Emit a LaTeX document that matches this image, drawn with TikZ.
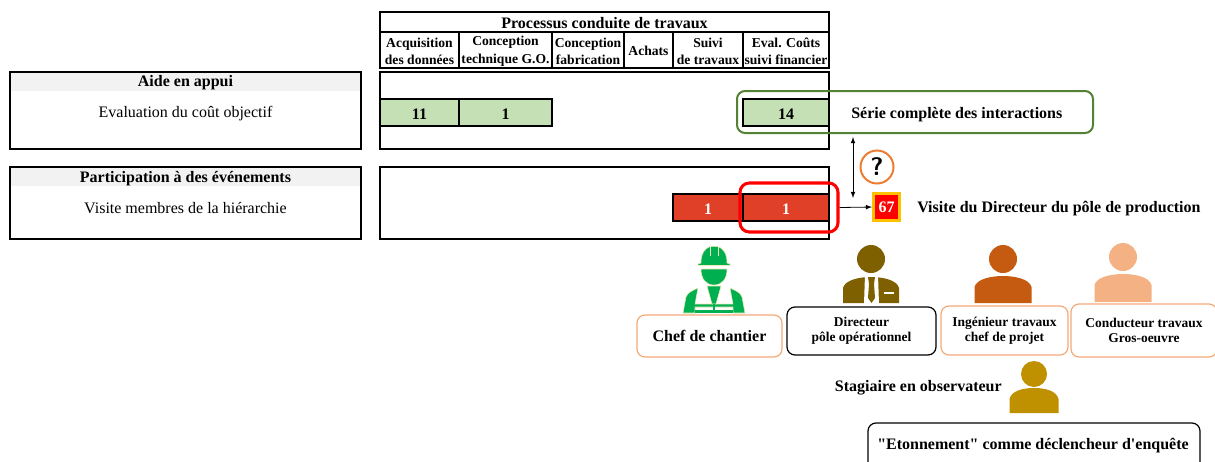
\documentclass[tikz,border=0pt]{standalone}
\usepackage{fontspec}
\setmainfont{Liberation Serif}[Ligatures=TeXOff]
\definecolor{cellgreen}{HTML}{C5E0B4}
\definecolor{cellred}{HTML}{DF4027}
\definecolor{focusgreen}{HTML}{548235}
\definecolor{markorange}{HTML}{ED7D31}
\definecolor{softorange}{HTML}{F4A978}
\definecolor{gold}{HTML}{FFC000}
\definecolor{bandgray}{HTML}{F2F2F2}
\definecolor{workergreen}{HTML}{00B050}
\definecolor{workeredge}{HTML}{EFE9B8}
\definecolor{directorbrown}{HTML}{7F6000}
\definecolor{engineerbrown}{HTML}{C55A11}
\definecolor{conductorpeach}{HTML}{F4B183}
\definecolor{internochre}{HTML}{BF9000}
\def\px{0.75pt}
\tikzset{
  frame/.style={draw=black, line width=1.5pt},
  small/.style={font=\fontsize{10.2}{13.3}\selectfont\bfseries, align=center, inner sep=0pt, yshift=-1pt},
  label/.style={font=\fontsize{12}{14}\selectfont\bfseries, align=center, inner sep=0pt, yshift=-1pt},
  plain/.style={font=\fontsize{12}{14}\selectfont, inner sep=0pt, yshift=-0.7pt},
  rolebox/.style={draw=#1, line width=0.9pt, rounded corners=6pt, fill=white, font=\fontsize{10.1}{11.3}\selectfont\bfseries, align=center, inner sep=0pt},
  vest/.style={fill=workergreen, draw=workeredge, line width=0.4pt}
}
\begin{document}
\begin{tikzpicture}[x=0.75pt, y=-0.75pt]
    \path[use as bounding box, clip] (0,0) rectangle (1215,461);
    % header table
    \draw[frame] (380,12) rectangle (829,32) node[pos=.5, label] (process) {Processus conduite de travaux};
    \foreach \xa/\xb/\name/\txt in {380/459/acq/{Acquisition\\des données},459/552/tech/{Conception\\technique G.O.},552/624/fab/{Conception\\fabrication},624/673/ach/Achats,673/743/suivi/{Suivi\\de travaux},743/829/eval/{Eval. Coûts\\suivi financier}}
    \draw[frame] (\xa,32) rectangle (\xb,68) node[pos=.5, small] (\name) {\txt};
    % left boxes
    \fill[bandgray] (10,72) rectangle (361,91);
    \fill[bandgray] (10,167) rectangle (361,186);
    \draw[frame] (10,72) rectangle (361,149);
    \draw[frame] (10,167) rectangle (361,239);
    \node[label] (aide) at (185.5,81) {Aide en appui};
    \node[plain] (evalcout) at (185.5,113) {Evaluation du coût objectif};
    \node[label] (part) at (185.5,177) {Participation à des événements};
    \node[plain] (visite) at (185.5,207.5) {Visite membres de la hiérarchie};
    % rows
    \draw[frame] (380,72) rectangle (829,149);
    \draw[frame] (380,167) rectangle (829,239);
    \foreach \xa/\xb/\name/\txt in {380/459/ga/11,459/552/gb/1,743/829/gc/14}
    \filldraw[frame, fill=cellgreen] (\xa,99) rectangle (\xb,126) node[pos=.5, label] (\name) {\txt};
    \foreach \xa/\xb/\name in {673/743/ra,743/829/rb}
    \filldraw[frame, fill=cellred] (\xa,194) rectangle (\xb,221) node[pos=.5, label, text=white] (\name) {1};
    % focus frames
    \node[draw=focusgreen, line width=1.5pt, rounded corners=6pt, minimum width=356*\px, minimum height=42*\px, inner sep=0pt] (focusgreen) at (915,112) {};
    \node[draw=red, line width=2.3pt, rounded corners=7pt, minimum width=98*\px, minimum height=49*\px, inner sep=0pt] (focusred) at (789,207.5) {};
    \node[label, anchor=west] (serie) at (851,113) {Série complète des interactions};
    \node[draw=gold, fill=red, line width=2.2pt, minimum width=26*\px, minimum height=27*\px, inner sep=0pt, label, text=white] (count) at (886.5,205.7) {67};
    \node[label, anchor=west] (visitedir) at (917,207) {Visite du Directeur du pôle de production};
    \node[circle, draw=markorange, line width=1.5pt, fill=white, minimum size=33*\px, inner sep=0pt, font=\fontsize{19}{19}\selectfont\bfseries\sffamily] (question) at (877,167) {?};
    % connectors
    \coordinate (uptop) at (853,137);
    \coordinate (upbot) at (853,198);
    \draw[latex-latex, line width=0.6pt] (uptop) -- (upbot);
    \draw[-latex, line width=0.6pt] (focusred.east) -- (count.west);
    % people
    \foreach \cx/\hy/\ty/\by/\w/\r/\col in {1003/259/276/303/28.5/14/engineerbrown,1123/257/274/302/28.5/14/conductorpeach,1034/374/388/413/24.5/13/internochre,871/259/277/303/28/14/directorbrown}{
        \fill[\col] (\cx,\hy) circle[radius=\r];
        \fill[\col] ({\cx-\w},\by) -- ({\cx-\w},{\ty+11}) .. controls ({\cx-\w+2},{\ty+3}) and ({\cx-12},\ty) .. (\cx,\ty) .. controls ({\cx+12},\ty) and ({\cx+\w-2},{\ty+3}) .. ({\cx+\w},{\ty+11}) -- ({\cx+\w},\by) -- cycle;
    }
    % director suit
    \fill[white] (865,275) -- (878,275) -- (879,304) -- (864,304) -- cycle;
    \fill[directorbrown] (868,277) -- (875,277) -- (874,284) -- (875,298) -- (871.5,303) -- (868,298) -- (869,284) -- cycle;
    \fill[white] (884,292) rectangle (894,294);
    % site manager
    \filldraw[vest] (698,265.5) -- (698,264) -- (701,263) .. controls (701,253) and (705,249) .. (709,247) .. controls (712,246) and (716,246) .. (719,247) .. controls (723,249) and (727,253) .. (727,263) -- (730,264) -- (730,265.5) -- cycle;
    \draw[workeredge, line width=0.7pt] (710,247) -- (710,256) (718,247) -- (718,256);
    \filldraw[vest] (701,269) -- (727,269) .. controls (727,279) and (722,285) .. (714,285) .. controls (706,285) and (701,279) .. (701,269) -- cycle;
    \filldraw[vest] (683,313) -- (686,297) .. controls (688,292) and (692,291) .. (698,288) -- (695,304) -- (733,304) -- (730,288) .. controls (736,291) and (740,292) .. (742,297) -- (745,313) -- (733,313) -- (733,307) -- (695,307) -- (695,313) -- cycle;
    \filldraw[vest] (707,286) -- (721,286) -- (716,304) -- (712,304) -- cycle;
    \fill[workergreen] (713,304) rectangle (715,313);
    \fill[workergreen] (695,310) rectangle (733,313);
    % role boxes
    \node[rolebox=softorange, font=\fontsize{12}{14}\selectfont\bfseries, minimum width=145*\px, minimum height=42*\px] (chef) at (709.5,336) {Chef de chantier};
    \node[rolebox=black, minimum width=149*\px, minimum height=48*\px] (directeur) at (861.5,331) {Directeur\\pôle opérationnel};
    \node[rolebox=softorange, minimum width=127*\px, minimum height=49*\px] (ingenieur) at (1004.5,330.5) {Ingénieur travaux\\chef de projet};
    \node[rolebox=softorange, minimum width=146*\px, minimum height=53*\px] (conducteur) at (1144,330.5) {Conducteur travaux\\Gros-oeuvre};
    \node[label, anchor=east] (stagiaire) at (1002,386) {Stagiaire en observateur};
    \node[draw=black, line width=0.9pt, rounded corners=6pt, minimum width=332*\px, minimum height=60*\px, inner sep=0pt] (etonnebox) at (1034,453) {};
    \node[label] (etonne) at (1033,444) {"Etonnement" comme déclencheur d'enquête};
\end{tikzpicture}
\end{document}
